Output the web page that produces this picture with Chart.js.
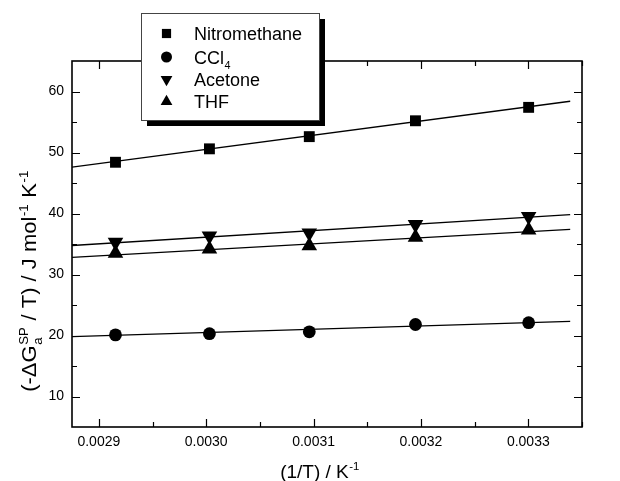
<!DOCTYPE html>
<html>
<head>
<meta charset="utf-8">
<script src="https://cdn.jsdelivr.net/npm/chart.js@4/dist/chart.umd.min.js"></script>
<style>
  html, body { margin: 0; background: #fff; }
  #wrap { width: 620px; height: 481px; }
</style>
</head>
<body>
<div id="wrap"><canvas id="chart"></canvas></div>
<script>
// measured points, 1/T in K^-1
const invT = [0.0029155, 0.0030030, 0.0030960, 0.0031949, 0.0033003];
const nitromethane = [48.4, 50.6, 52.6, 55.2, 57.4];
const ccl4 = [20.1, 20.3, 20.6, 21.8, 22.1];
const acetone = [35.3, 36.3, 36.8, 38.2, 39.5];
const thf = [33.5, 34.2, 34.7, 36.1, 37.3];

// linear fits, end points
const fitX = [0.002875, 0.003339];
const fitNitromethane = [47.6, 58.4];
const fitCcl4 = [19.8, 22.3];
const fitAcetone = [34.75, 39.8];
const fitThf = [32.8, 37.4];

const xTicks = [0.0029, 0.0030, 0.0031, 0.0032, 0.0033];
const yTicks = [10, 20, 30, 40, 50, 60];

const FONT = "'Liberation Sans', Arial, Helvetica, sans-serif";
const ink = '#000';

function pts(xs, ys) {
    return xs.map((x, i) => ({ x: x, y: ys[i] }));
}

function marker(label, ys, style, radius, rotation) {
    return {
        label: label,
        data: pts(invT, ys),
        pointStyle: style,
        pointRadius: radius,
        pointRotation: rotation || 0,
        backgroundColor: ink,
        borderColor: ink,
        borderWidth: 0,
        showLine: false
    };
}

function fitLine(ys) {
    return {
        data: pts(fitX, ys),
        showLine: true,
        pointRadius: 0,
        borderColor: ink,
        borderWidth: 1.3,
        fill: false
    };
}

// text with sub/superscripts; runs = [[text, kind], ...]
function richWidth(ctx, runs, size) {
    let w = 0;
    for (const [t, kind] of runs) {
        if (kind === '') {
            ctx.font = size + 'px ' + FONT;
            w += ctx.measureText(t).width;
        } else {
            ctx.font = (size * 0.6) + 'px ' + FONT;
            const parts = Array.isArray(t) ? t : [t];
            w += Math.max(...parts.map(p => ctx.measureText(p).width)) + 1;
        }
    }
    return w;
}

function drawRich(ctx, runs, cx, baseY, size) {
    let x = cx - richWidth(ctx, runs, size) / 2;
    ctx.textAlign = 'left';
    ctx.textBaseline = 'alphabetic';
    for (const [t, kind] of runs) {
        if (kind === '') {
            ctx.font = size + 'px ' + FONT;
            ctx.fillText(t, x, baseY);
            x += ctx.measureText(t).width;
            continue;
        }
        ctx.font = (size * 0.6) + 'px ' + FONT;
        if (kind === 'sup') {
            ctx.fillText(t, x + 0.5, baseY - size * 0.42);
            x += ctx.measureText(t).width + 1;
        } else if (kind === 'sub') {
            ctx.fillText(t, x + 0.5, baseY + size * 0.28);
            x += ctx.measureText(t).width + 1;
        } else {
            ctx.fillText(t[0], x + 0.5, baseY - size * 0.42);
            ctx.fillText(t[1], x + 0.5, baseY + size * 0.28);
            x += Math.max(ctx.measureText(t[0]).width, ctx.measureText(t[1]).width) + 1;
        }
    }
}

function drawMark(ctx, style, r, rot, x, y) {
    ctx.beginPath();
    if (style === 'rect') {
        const s = r * Math.SQRT1_2;
        ctx.rect(x - s, y - s, 2 * s, 2 * s);
    } else if (style === 'circle') {
        ctx.arc(x, y, r, 0, Math.PI * 2);
    } else {
        let a = rot * Math.PI / 180;
        ctx.moveTo(x + Math.sin(a) * r, y - Math.cos(a) * r);
        a += Math.PI * 2 / 3;
        ctx.lineTo(x + Math.sin(a) * r, y - Math.cos(a) * r);
        a += Math.PI * 2 / 3;
        ctx.lineTo(x + Math.sin(a) * r, y - Math.cos(a) * r);
        ctx.closePath();
    }
    ctx.fill();
}

const decorations = {
    id: 'decorations',
    afterDraw(chart) {
        const { ctx, chartArea: a, scales: { x, y } } = chart;
        ctx.save();

        // frame
        ctx.strokeStyle = ink;
        ctx.lineWidth = 1.6;
        ctx.strokeRect(a.left, a.top, a.right - a.left, a.bottom - a.top);

        // inward ticks on all four sides
        ctx.lineWidth = 1.2;
        ctx.beginPath();
        const xStep = xTicks[1] - xTicks[0];
        for (let v = xTicks[0] - xStep / 2; v <= x.max + 1e-9; v += xStep / 2) {
            if (v < x.min - 1e-9) continue;
            const px = Math.round(x.getPixelForValue(v)) + 0.5;
            const major = xTicks.some(t => Math.abs(t - v) < 1e-9);
            const len = major ? 8 : 5;
            ctx.moveTo(px, a.bottom); ctx.lineTo(px, a.bottom - len);
            ctx.moveTo(px, a.top); ctx.lineTo(px, a.top + len);
        }
        const yStep = yTicks[1] - yTicks[0];
        for (let v = yTicks[0] - yStep / 2; v <= y.max + 1e-9; v += yStep / 2) {
            if (v <= y.min + 1e-9 || v >= y.max - 1e-9) continue;
            const py = Math.round(y.getPixelForValue(v)) + 0.5;
            const major = yTicks.includes(v);
            const len = major ? 8 : 5;
            ctx.moveTo(a.left, py); ctx.lineTo(a.left + len, py);
            ctx.moveTo(a.right, py); ctx.lineTo(a.right - len, py);
        }
        ctx.stroke();

        // axis titles
        ctx.fillStyle = ink;
        drawRich(ctx, [['(1/T) / K', ''], ['-1', 'sup']], 320, 478, 19);
        ctx.save();
        ctx.translate(36, 281);
        ctx.rotate(-Math.PI / 2);
        ctx.scale(1.1, 1);
        drawRich(ctx, [['(-\u0394G', ''], [['SP', 'a'], 'stack'], [' / T) / J mol', ''],
                       ['-1', 'sup'], [' K', ''], ['-1', 'sup']], 0, 0, 20);
        ctx.restore();

        // legend box with drop shadow
        const bx = 141.5, by = 13.5, bw = 178, bh = 107, sh = 5.5;
        ctx.fillStyle = ink;
        ctx.fillRect(bx + sh, by + sh, bw, bh);
        ctx.fillStyle = '#fff';
        ctx.fillRect(bx, by, bw, bh);
        ctx.strokeStyle = '#444';
        ctx.lineWidth = 1;
        ctx.strokeRect(bx, by, bw, bh);

        const items = [
            ['rect', 6.5, 0, 33.5, [['Nitromethane', '']]],
            ['circle', 5.5, 0, 57, [['CCl', ''], ['4', 'sub']]],
            ['triangle', 6.8, 180, 79.5, [['Acetone', '']]],
            ['triangle', 6.8, 0, 101.5, [['THF', '']]]
        ];
        ctx.fillStyle = ink;
        for (const [style, r, rot, cy, runs] of items) {
            drawMark(ctx, style, r, rot, 166.5, cy);
            const w = richWidth(ctx, runs, 18);
            drawRich(ctx, runs, 194 + w / 2, cy + 6.5, 18);
        }
        ctx.restore();
    }
};

new Chart('chart', {
    type: 'scatter',
    data: {
        datasets: [
            marker('Nitromethane', nitromethane, 'rect', 7.7),
            marker('CCl4', ccl4, 'circle', 6.4),
            marker('Acetone', acetone, 'triangle', 9, 180),
            marker('THF', thf, 'triangle', 9),
            fitLine(fitNitromethane),
            fitLine(fitCcl4),
            fitLine(fitAcetone),
            fitLine(fitThf)
        ]
    },
    options: {
        responsive: true,
        maintainAspectRatio: false,
        animation: false,
        layout: { padding: { top: 61, right: 38, left: 0, bottom: 0 } },
        plugins: {
            legend: { display: false },
            tooltip: { enabled: false }
        },
        scales: {
            x: {
                type: 'linear',
                min: 0.002875,
                max: 0.00335,
                grid: { display: false, drawTicks: false },
                border: { display: false },
                afterBuildTicks: s => { s.ticks = xTicks.map(v => ({ value: v })); },
                afterFit: s => { s.height = 54; },
                ticks: {
                    color: ink,
                    padding: 7,
                    maxRotation: 0,
                    font: { family: FONT, size: 14 },
                    callback: v => v.toFixed(4)
                }
            },
            y: {
                min: 5,
                max: 65,
                grid: { display: false, drawTicks: false },
                border: { display: false },
                afterBuildTicks: s => { s.ticks = yTicks.map(v => ({ value: v })); },
                afterFit: s => { s.width = 72; },
                ticks: {
                    color: ink,
                    padding: 8,
                    font: { family: FONT, size: 14 },
                    callback: v => String(v)
                }
            }
        }
    },
    plugins: [decorations]
});
</script>
</body>
</html>
